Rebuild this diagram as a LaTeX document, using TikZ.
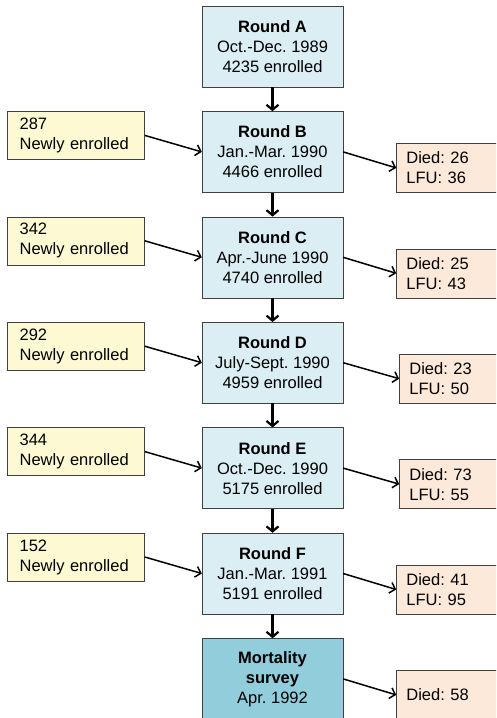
\documentclass[tikz,border=0pt]{standalone}
\usepackage{fontspec}
\setmainfont{Liberation Sans}
\usetikzlibrary{positioning, arrows.meta}
\frenchspacing

\definecolor{roundblue}{HTML}{DAEEF3}
\definecolor{surveyblue}{HTML}{92CDDC}
\definecolor{newyellow}{HTML}{FDF9D2}
\definecolor{lostpeach}{HTML}{FDE9D9}
\definecolor{boxline}{HTML}{404040}

\tikzstyle{roundbox} = [
    rectangle,
    minimum width=141pt,
    minimum height=81pt,
    align=center,
    fill=roundblue,
    draw=boxline
]
\tikzstyle{survey} = [
    roundbox,
    fill=surveyblue
]
\tikzstyle{newbox} = [
    rectangle,
    text width=113pt,
    inner xsep=12pt,
    minimum height=48pt,
    align=left,
    fill=newyellow,
    draw=boxline
]
\tikzstyle{lostbox} = [
    rectangle,
    text width=90pt,
    inner xsep=10pt,
    minimum height=49pt,
    align=left,
    fill=lostpeach,
    draw=boxline
]
\tikzstyle{arrow} = [line width=2.2pt,-{Straight Barb[length=5pt,width=12pt]}]
\tikzstyle{sidearrow} = [line width=1.5pt,-{Straight Barb[length=5pt,width=11pt]}]

\begin{document}
\begin{tikzpicture}[node distance=24pt, font=\fontsize{16.5}{20}\selectfont]

\clip (0pt,0pt) rectangle (496pt,-718pt);

\node (roundA) [roundbox] at (272.5pt,-46.5pt)
{\textbf{Round A}\\Oct.-Dec. 1989\\4235 enrolled};

\node (roundB) [roundbox, below=of roundA]
{\textbf{Round B}\\Jan.-Mar. 1990\\4466 enrolled};

\node (roundC) [roundbox, below=of roundB]
{\textbf{Round C}\\Apr.-June 1990\\4740 enrolled};

\node (roundD) [roundbox, below=of roundC]
{\textbf{Round D}\\July-Sept. 1990\\4959 enrolled};

\node (roundE) [roundbox, below=of roundD]
{\textbf{Round E}\\Oct.-Dec. 1990\\5175 enrolled};

\node (roundF) [roundbox, below=of roundE]
{\textbf{Round F}\\Jan.-Mar. 1991\\5191 enrolled};

\node (mortality) [survey, below=of roundF]
{\textbf{Mortality}\\\textbf{survey}\\Apr. 1992};

\node (newB) [newbox, left=57pt of roundB.north west, anchor=north east]
{287\\Newly enrolled};

\node (newC) [newbox, left=57pt of roundC.north west, anchor=north east]
{342\\Newly enrolled};

\node (newD) [newbox, left=57pt of roundD.north west, anchor=north east]
{292\\Newly enrolled};

\node (newE) [newbox, left=57pt of roundE.north west, anchor=north east]
{344\\Newly enrolled};

\node (newF) [newbox, left=57pt of roundF.north west, anchor=north east]
{152\\Newly enrolled};

\node (lostB) [lostbox, right=53pt of roundB.south east, anchor=south west]
{Died: 26\\LFU: 36};

\node (lostC) [lostbox, right=53pt of roundC.south east, anchor=south west]
{Died: 25\\LFU: 43};

\node (lostD) [lostbox, right=56pt of roundD.south east, anchor=south west]
{Died: 23\\LFU: 50};

\node (lostE) [lostbox, right=56pt of roundE.south east, anchor=south west]
{Died: 73\\LFU: 55};

\node (lostF) [lostbox, right=53pt of roundF.south east, anchor=south west]
{Died: 41\\LFU: 95};

\node (lostM) [lostbox, right=53pt of mortality.south east, anchor=south west]
{Died: 58};

\draw [arrow] (roundA) -- (roundB);
\draw [arrow] (roundB) -- (roundC);
\draw [arrow] (roundC) -- (roundD);
\draw [arrow] (roundD) -- (roundE);
\draw [arrow] (roundE) -- (roundF);
\draw [arrow] (roundF) -- (mortality);

\draw [sidearrow] (newB.east) -- (roundB.west);
\draw [sidearrow] (newC.east) -- (roundC.west);
\draw [sidearrow] (newD.east) -- (roundD.west);
\draw [sidearrow] (newE.east) -- (roundE.west);
\draw [sidearrow] (newF.east) -- (roundF.west);

\draw [sidearrow] (roundB.east) -- (lostB.west);
\draw [sidearrow] (roundC.east) -- (lostC.west);
\draw [sidearrow] (roundD.east) -- (lostD.west);
\draw [sidearrow] (roundE.east) -- (lostE.west);
\draw [sidearrow] (roundF.east) -- (lostF.west);
\draw [sidearrow] (mortality.east) -- (lostM.west);

\end{tikzpicture}
\end{document}
